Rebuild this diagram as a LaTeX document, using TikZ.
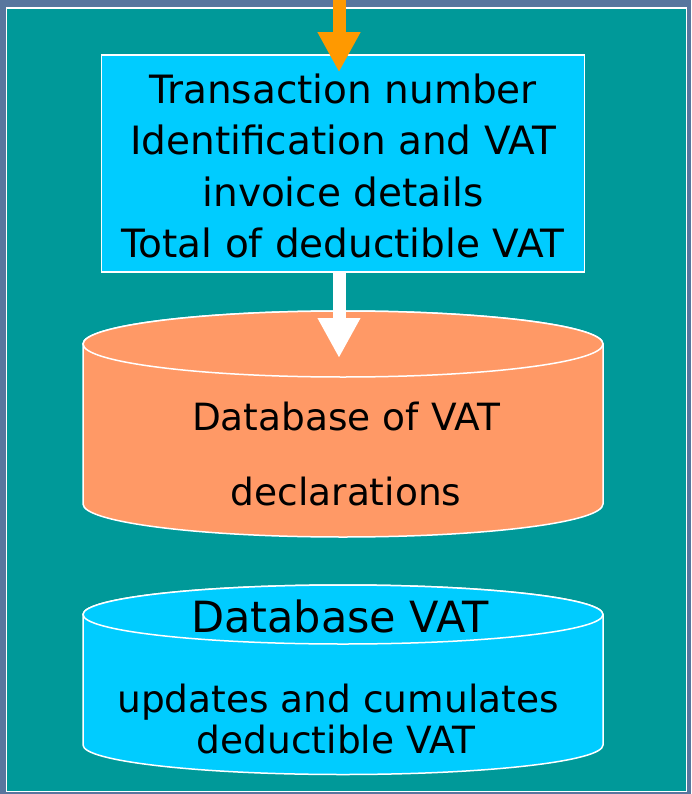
\documentclass[tikz,border=0pt]{standalone}
\usepackage{fontspec}
\setmainfont{DejaVu Sans}
\usetikzlibrary{positioning,arrows.meta}
\definecolor{slide}{RGB}{88,118,158}
\definecolor{panel}{RGB}{0,153,153}
\definecolor{boxblue}{RGB}{0,204,255}
\definecolor{dborange}{RGB}{255,153,102}
\definecolor{flow}{RGB}{255,153,0}
\tikzset{%
  outline/.style={draw=white, line width=1.5pt},% white frame
  info/.style={outline, fill=boxblue, align=center, inner sep=0pt,
    minimum width=483pt, minimum height=217pt,
    font=\fontsize{39}{51.5}\selectfont},% record box
  dbtext/.style={anchor=base, font=\fontsize{37.5}{46}\selectfont},% drum text
  feed/.style={line width=13pt, -{Triangle[length=40pt, width=40pt]}}% flow arrow
}
% database drum: #1 top centre y, #2 bottom centre y, #3 cap radius, #4 fill
\newcommand*{\drum}[4]{
  \draw[outline, fill=#4] (83,#1) -- (83,#2)
    arc[start angle=180, end angle=360, x radius=260pt, y radius=#3pt]
    -- (603,#1) arc[start angle=0, end angle=180, x radius=260pt, y radius=#3pt] -- cycle;
  \draw[outline, fill=#4] (343,#1) ellipse[x radius=260pt, y radius=#3pt];
}

\begin{document}
\begin{tikzpicture}[x=1pt, y=-1pt]
\useasboundingbox (0,0) rectangle (691,794);
\fill[slide] (0,0) rectangle (691,794);
\draw[outline, fill=panel] (6.5,8) rectangle (686.5,791.5);

\node[info] (details) at (343,163.5) {\rule{0pt}{35pt}Transaction number\\Identification and VAT\\invoice details\\Total of deductible VAT};
\coordinate (source) at (339,0);
\draw[feed, flow, shorten >=-18pt] (source) -- (details.north -| source);

\drum{344}{504}{33}{dborange}
\coordinate (declar) at (339,311);
\draw[feed, white, shorten >=-47pt] (details.south -| source) -- (declar);

\drum{614.5}{745}{29.5}{boxblue}

\node[dbtext] (declartitle) at (346,430) {Database of VAT};
\node[dbtext] (declarname) at (346,505) {declarations};
\node[dbtext, font=\fontsize{43}{52}\selectfont] (cumultitle) at (340,632) {Database VAT};
\node[dbtext] (cumulupdates) at (338,712) {updates and cumulates};
\node[dbtext] (cumuldeduct) at (336,753) {deductible VAT};
\end{tikzpicture}
\end{document}
